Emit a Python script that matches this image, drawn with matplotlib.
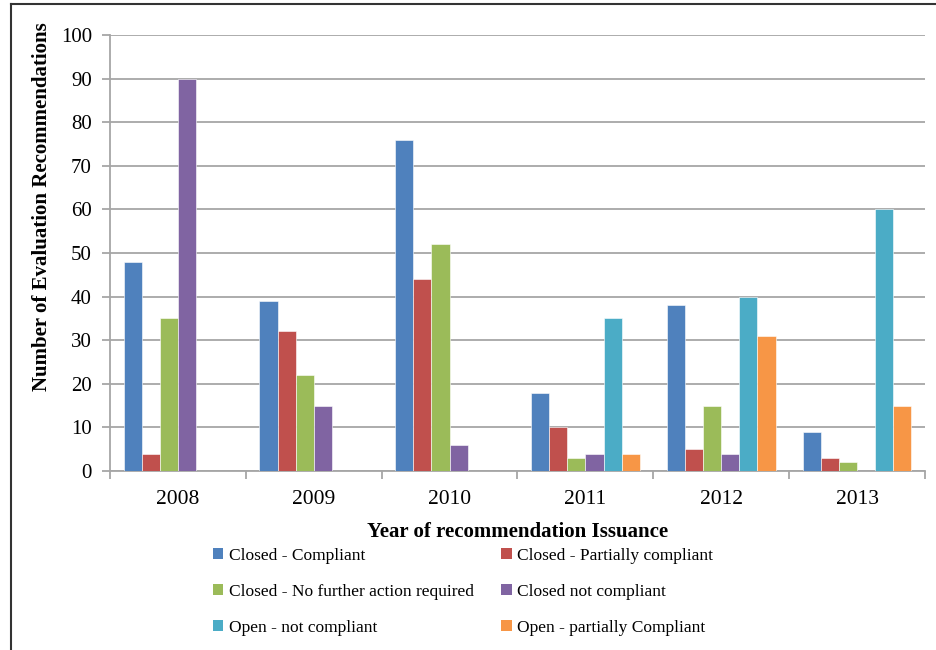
import matplotlib
matplotlib.use("Agg")
import matplotlib.pyplot as plt
from matplotlib.patches import Patch
from matplotlib.lines import Line2D
import numpy as np

years = ["2008", "2009", "2010", "2011", "2012", "2013"]
series_names = [
    "Closed - Compliant",
    "Closed - Partially compliant",
    "Closed - No further action required",
    "Closed not compliant",
    "Open - not compliant",
    "Open - partially Compliant",
]
closed_compliant = [48, 39, 76, 18, 38, 9]
closed_partial = [4, 32, 44, 10, 5, 3]
closed_no_further = [35, 22, 52, 3, 15, 2]
closed_not = [90, 15, 6, 4, 4, 0]
open_not = [0, 0, 0, 35, 40, 60]
open_partial = [0, 0, 0, 4, 31, 15]
series = [closed_compliant, closed_partial, closed_no_further, closed_not, open_not, open_partial]
colors = ["#4F81BD", "#C0504D", "#9BBB59", "#8064A2", "#4BACC6", "#F79646"]

plt.rcParams["font.family"] = ["Liberation Serif", "DejaVu Serif"]

fig = plt.figure(figsize=(9.36, 6.5), dpi=100)
ax = fig.add_axes([110/936, 1-471/650, (925-110)/936, (471-35)/650])

n = len(series)
w = 1/7.5
x = np.arange(len(years))
for j, (vals, c) in enumerate(zip(series, colors)):
    ax.bar(x + (j - (n-1)/2)*w, vals, width=w, color=c, edgecolor="white", linewidth=0.4, zorder=3)

ax.set_xlim(-0.5, len(years)-0.5)
ax.set_ylim(0, 100)
ax.set_yticks(np.arange(0, 101, 10))
ax.yaxis.grid(True, color="#A6A6A6", linewidth=1.3, zorder=0)
ax.set_axisbelow(True)
for s in ["top", "right"]:
    ax.spines[s].set_visible(False)
for s in ["left", "bottom"]:
    ax.spines[s].set_color("#A6A6A6")
    ax.spines[s].set_linewidth(1.3)
ax.set_xticks(x)
ax.set_xticklabels(years)
ax.set_xticks(np.arange(-0.5, len(years), 1), minor=True)
ax.tick_params(axis="x", which="major", length=0, labelsize=15.5, pad=14)
ax.tick_params(axis="x", which="minor", length=6, color="#A6A6A6", width=1.3, direction="out")
ax.tick_params(axis="y", length=6, color="#A6A6A6", width=1.3, labelsize=15, pad=7)

ax.set_xlabel("Year of recommendation Issuance", fontsize=15, fontweight="bold", labelpad=9)
fig.text(42/936, 1-207/650, "Number of Evaluation Recommendations", rotation=90,
         fontsize=15, fontweight="bold", ha="center", va="center")

handles = [Patch(facecolor=c, edgecolor="none") for c in colors]
order = [0, 2, 4, 1, 3, 5]
fig.legend([handles[i] for i in order], [series_names[i] for i in order],
           ncol=2, loc="upper left", bbox_to_anchor=(206/936, 1-541/650),
           frameon=False, fontsize=12.5, handlelength=0.6, handleheight=0.6,
           handletextpad=0.3, columnspacing=1.6, labelspacing=1.15, borderaxespad=0)

fig.add_artist(Line2D([11/936, 1], [1-4/650, 1-4/650], transform=fig.transFigure, color="#333333", linewidth=1.5))
fig.add_artist(Line2D([11/936, 11/936], [0, 1-4/650], transform=fig.transFigure, color="#333333", linewidth=1.5))

fig.savefig("out.png", dpi=100)
